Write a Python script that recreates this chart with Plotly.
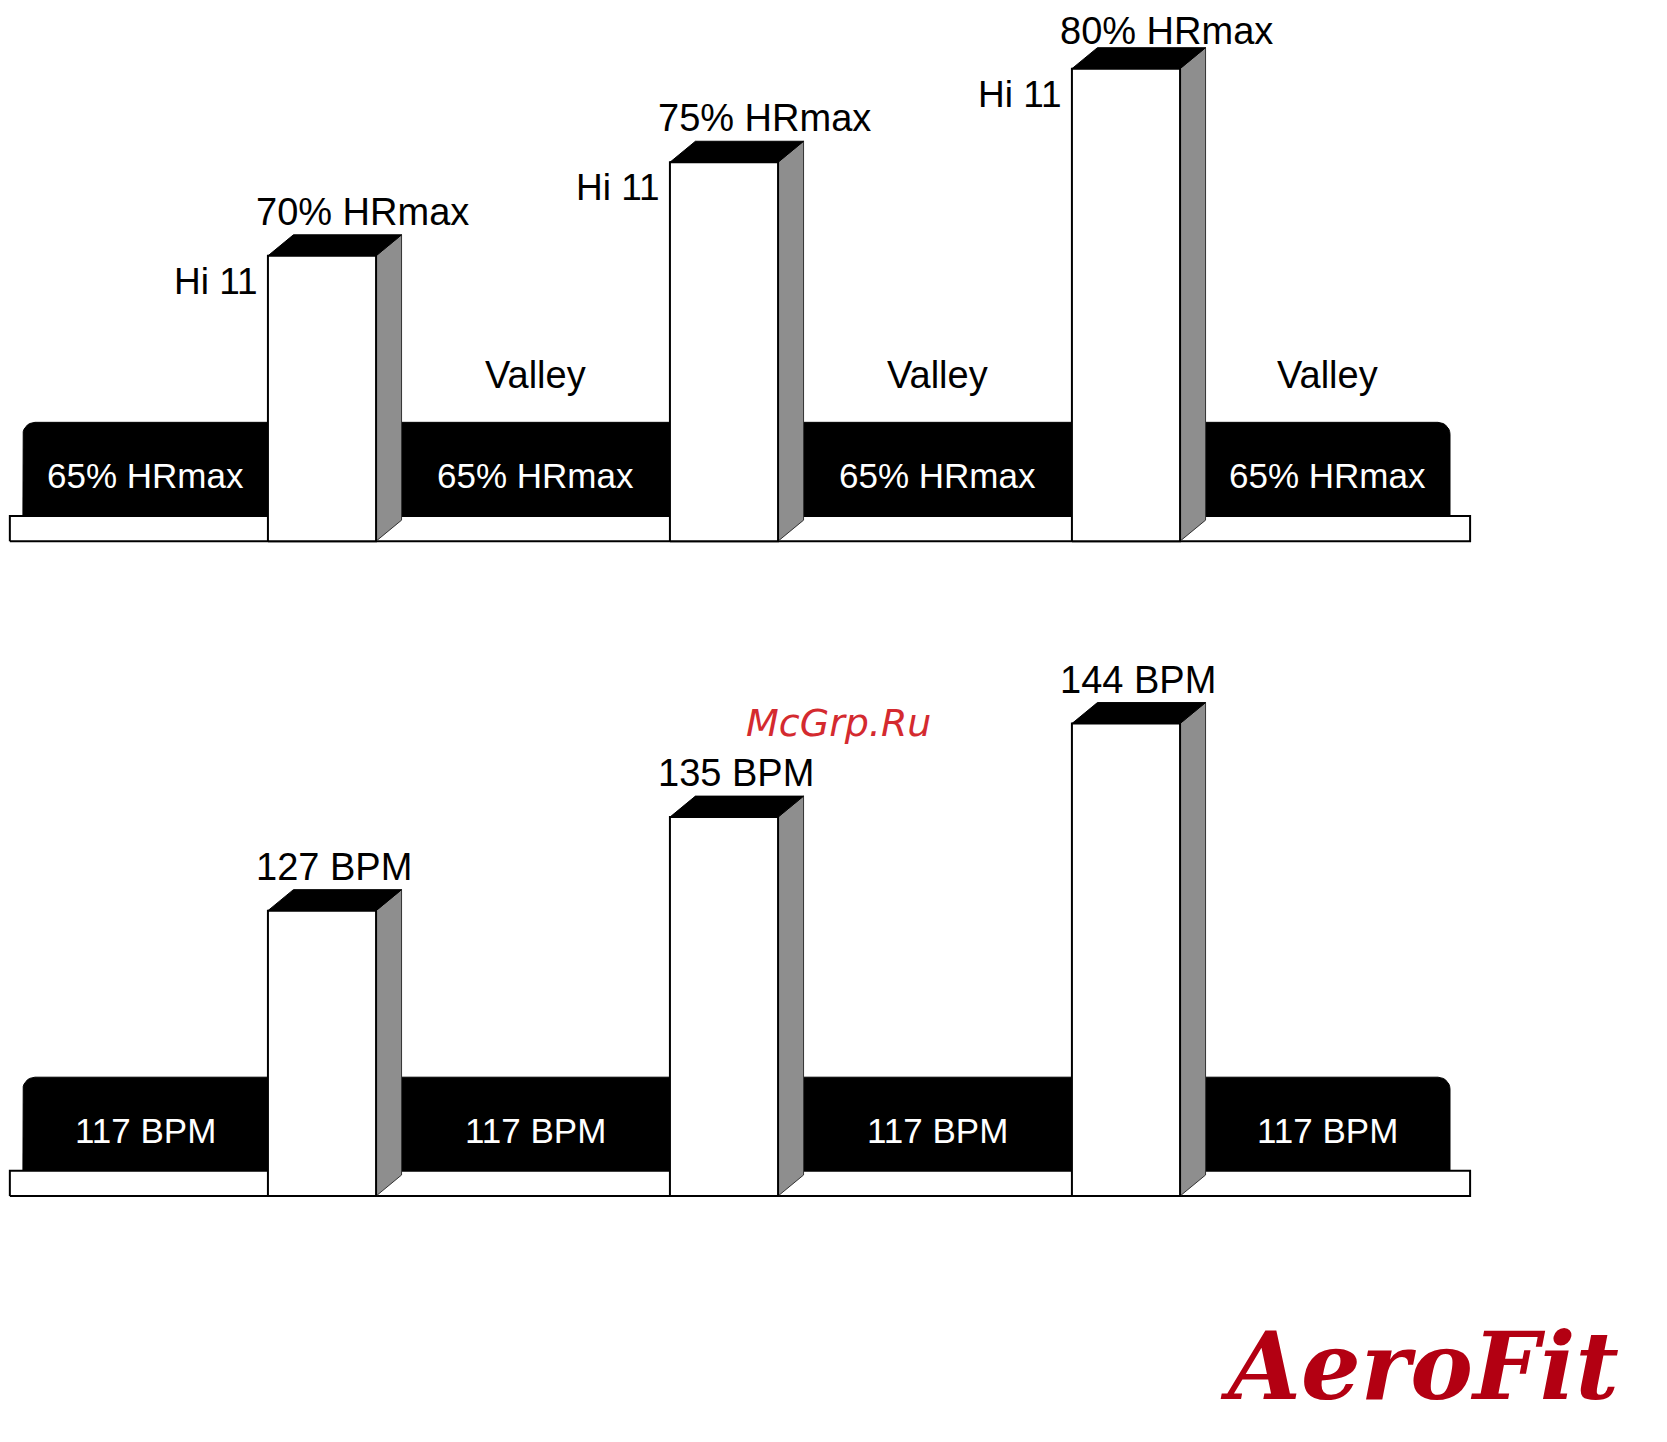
import numpy as np
import plotly.graph_objects as go

# ---------------- data ----------------
bar_slots = [1, 2, 3]                                   # the three "Hi 11" intervals
interval_labels = ["Hi 11", "Hi 11", "Hi 11"]
valley_names = ["Valley", "Valley", "Valley"]

top_peak_labels = ["70% HRmax", "75% HRmax", "80% HRmax"]
top_valley_labels = ["65% HRmax", "65% HRmax", "65% HRmax", "65% HRmax"]
bottom_peak_labels = ["127 BPM", "135 BPM", "144 BPM"]
bottom_valley_labels = ["117 BPM", "117 BPM", "117 BPM", "117 BPM"]

# drawn heights (in chart steps above the floor bottom)
peak_heights = [3.05, 4.05, 5.05]
valley_height = 1.27
floor_height = 0.27

# ---------------- layout / style constants ----------------
PANEL_OFFSETS = {"top": 7.0, "bottom": 0.0}
BAR_W = 0.269
DX, DY = 0.0634, 0.2245            # 3-D depth offsets
BAND_L, BAND_R = 0.256, 3.806
FLOOR_L, FLOOR_R = 0.2235, 3.856
RX, RY = 0.03, 0.128               # band corner radius
PEAK_LABEL_DY = 0.47
XRANGE = [0.2189, 4.3259]
YRANGE = [-2.544, 12.699]
LABEL_CEIL = YRANGE[1] - 0.25      # keep labels inside the canvas
FONT = "Liberation Sans, Arial, sans-serif"
GREY = "#8e8e8e"

fig = go.Figure()


def poly(xs, ys, fill, line_color="black", line_w=2):
    fig.add_trace(go.Scatter(
        x=list(xs) + [xs[0]], y=list(ys) + [ys[0]], mode="lines",
        fill="toself", fillcolor=fill,
        line=dict(color=line_color, width=line_w),
        hoverinfo="skip", showlegend=False))


def band_polygon(y0, y1):
    xs, ys = [BAND_L], [y0]
    t = np.linspace(np.pi, np.pi / 2, 8)
    xs += list(BAND_L + RX + RX * np.cos(t))
    ys += list(y1 - RY + RY * np.sin(t))
    t = np.linspace(np.pi / 2, 0, 8)
    xs += list(BAND_R - RX + RX * np.cos(t))
    ys += list(y1 - RY + RY * np.sin(t))
    xs += [BAND_R]
    ys += [y0]
    return xs, ys


annotations = []


def draw_panel(base, peak_labels, valley_labels, show_interval):
    # valley band
    bx, by = band_polygon(base + floor_height, base + valley_height)
    poly(bx, by, "black", "black", 1)
    # floor strip
    poly([FLOOR_L, FLOOR_R, FLOOR_R, FLOOR_L],
         [base, base, base + floor_height, base + floor_height], "white")
    # bars
    for s, h in zip(bar_slots, peak_heights):
        xl, xr = s - BAR_W / 2, s + BAR_W / 2
        top = base + h
        # side
        poly([xr, xr + DX, xr + DX, xr], [base, base + DY, top + DY, top], GREY, "#333333", 1)
        # top face
        poly([xl, xl + DX, xr + DX, xr], [top, top + DY, top + DY, top], "black", "black", 1)
        # front
        poly([xl, xr, xr, xl], [base, base, top, top], "white", "black", 2)
    # valley labels (centred in visible band segments)
    lefts = [BAND_L] + [s + BAR_W / 2 + DX for s in bar_slots]
    rights = [s - BAR_W / 2 for s in bar_slots] + [BAND_R]
    for i, (l, r, txt) in enumerate(zip(lefts, rights, valley_labels)):
        cx = (l + r) / 2
        annotations.append(dict(x=cx, y=base + 0.705, text=txt, showarrow=False,
                                xanchor="center", yanchor="middle",
                                font=dict(family=FONT, size=35, color="white")))
        if show_interval and i > 0:
            annotations.append(dict(x=cx, y=base + 1.775, text=valley_names[i - 1],
                                    showarrow=False, xanchor="center", yanchor="middle",
                                    font=dict(family=FONT, size=38, color="black")))
    for s, h, txt, hi in zip(bar_slots, peak_heights, peak_labels, interval_labels):
        xl = s - BAR_W / 2
        top = base + h
        annotations.append(dict(x=xl - 0.035, y=min(top + PEAK_LABEL_DY, LABEL_CEIL),
                                text=txt, showarrow=False,
                                xanchor="left", yanchor="middle",
                                font=dict(family=FONT, size=38, color="black")))
        if show_interval:
            annotations.append(dict(x=xl - 0.02, y=top - 0.273, text=hi, showarrow=False,
                                    xanchor="right", yanchor="middle",
                                    font=dict(family=FONT, size=37, color="black")))


draw_panel(PANEL_OFFSETS["top"], top_peak_labels, top_valley_labels, True)
draw_panel(PANEL_OFFSETS["bottom"], bottom_peak_labels, bottom_valley_labels, False)

# watermark and logo
annotations.append(dict(xref="paper", yref="paper", x=0.5033, y=0.4986, text="McGrp.Ru",
                        showarrow=False, xanchor="center", yanchor="middle",
                        font=dict(family="DejaVu Sans", size=38, color="#d42a2f", style="italic")))
annotations.append(dict(xref="paper", yref="paper", x=0.855, y=0.048, text="AeroFit",
                        showarrow=False, xanchor="center", yanchor="middle",
                        font=dict(family="DejaVu Serif", size=94, color="#b30012",
                                  style="italic", weight="bold")))

fig.update_layout(
    width=1651, height=1426,
    margin=dict(l=0, r=0, t=0, b=0),
    paper_bgcolor="white", plot_bgcolor="white",
    xaxis=dict(range=XRANGE, visible=False, fixedrange=True),
    yaxis=dict(range=YRANGE, visible=False, fixedrange=True),
    annotations=annotations,
    hovermode=False,
    showlegend=False,
)

fig.write_html("out.html")
